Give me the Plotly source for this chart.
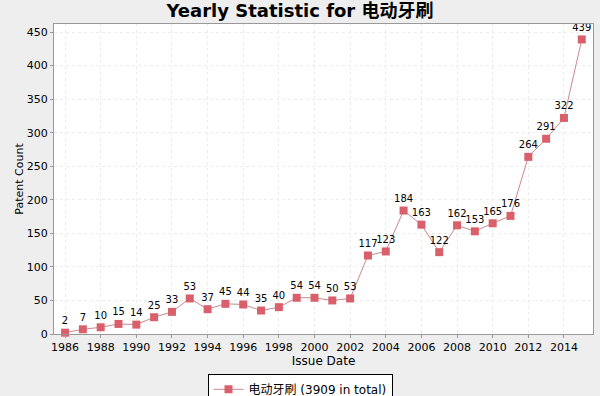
import plotly.graph_objects as go

years = list(range(1986, 2016))
counts = [2, 7, 10, 15, 14, 25, 33, 53, 37, 45, 44, 35, 40, 54, 54, 50, 53,
          117, 123, 184, 163, 122, 162, 153, 165, 176, 264, 291, 322, 439]
series_name = "电动牙刷 (3909 in total)"
title = "Yearly Statistic for 电动牙刷"

FONT = "DejaVu Sans, Noto Sans CJK SC, sans-serif"

fig = go.Figure()
fig.add_trace(go.Scatter(
    x=years, y=counts, mode="lines+markers+text",
    name=series_name,
    text=[str(v) for v in counts], textposition="top center",
    textfont=dict(size=10, color="#000000", family=FONT),
    line=dict(color="#c98890", width=1),
    marker=dict(symbol="square", size=8, color="#d9606b"),
    cliponaxis=False,
))

fig.update_layout(
    width=600, height=396,
    paper_bgcolor="#eeeeee", plot_bgcolor="#ffffff",
    margin=dict(l=54, r=7, t=24, b=62, autoexpand=False),
    title=dict(text="<b>" + title + "</b>", x=0.5, xanchor="center", y=0.974, yanchor="middle",
               font=dict(size=18, color="#000000", family=FONT)),
    font=dict(family=FONT, size=11, color="#000000"),
    showlegend=True,
    legend=dict(orientation="h", x=0.5, xanchor="center", xref="container",
                y=0.056, yanchor="top", yref="container",
                bordercolor="#000000", borderwidth=1, bgcolor="#ffffff",
                font=dict(size=12, family=FONT)),
)
fig.update_xaxes(
    range=[1985.38, 2015.63], tickmode="linear", tick0=1986, dtick=2,
    showgrid=True, gridcolor="#ececec", griddash="dot",
    showline=True, linecolor="#999999", mirror=True,
    ticks="outside", ticklen=3, tickcolor="#999999",
    tickfont=dict(size=11), zeroline=False, automargin=False,
    title=dict(text="Issue Date", font=dict(size=12), standoff=1),
)
fig.update_yaxes(
    range=[0, 462], tickmode="linear", tick0=0, dtick=50,
    showgrid=True, gridcolor="#ececec", griddash="dot",
    showline=True, linecolor="#999999", mirror=True,
    ticks="outside", ticklen=3, tickcolor="#999999",
    tickfont=dict(size=11), zeroline=False, automargin=False,
    title=dict(text="Patent Count", font=dict(size=11), standoff=0),
)

fig.write_html("out.html", config={"displayModeBar": False},
               post_script="document.body.style.margin='0';document.body.style.background='#eeeeee';")
